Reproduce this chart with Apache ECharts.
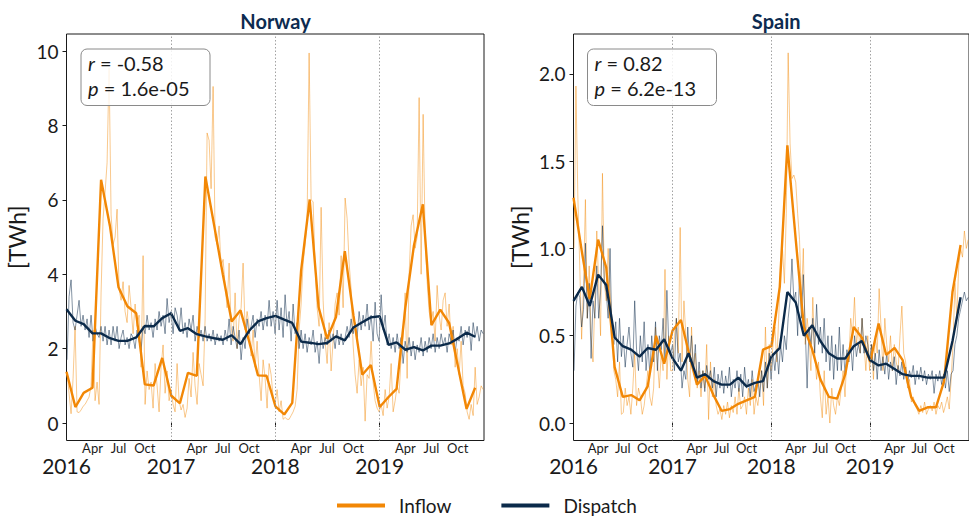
<!DOCTYPE html>
<html><head><meta charset="utf-8">
<script src="https://cdn.jsdelivr.net/npm/echarts@6/dist/echarts.min.js"></script>
<style>html,body{margin:0;padding:0;background:#fff}#c{width:969px;height:518px}</style>
</head><body><div id="c"></div>
<script>
// ---------------- DATA ----------------
const countries = ['Norway', 'Spain'];
const yearTicks = ['2016', '2017', '2018', '2019'];
const monthTicks = ['Apr', 'Jul', 'Oct'];
const monthTickIdx = [3, 6, 9];
const norwayYTicks = [0, 2, 4, 6, 8, 10];
const spainYTicks = [0, 0.5, 1.0, 1.5, 2.0];
const corrR = ['-0.58', '0.82'];
const corrP = ['1.6e-05', '6.2e-13'];

// monthly (Jan 2016 .. Dec 2019)
const norwayInflowMonthly = [1.38,0.43,0.81,0.95,6.54,5.3,3.65,3.14,2.95,1.04,1.01,1.75,
  0.74,0.53,1.35,1.27,6.63,5.3,4.0,2.73,3.03,2.2,1.28,1.27,
  0.45,0.23,0.54,4.1,6.01,3.12,2.27,2.85,4.62,2.9,1.3,1.56,
  0.43,0.7,0.92,3.12,4.78,5.88,2.63,3.05,2.69,1.55,0.38,0.95];
const norwayDispatchMonthly = [3.06,2.75,2.66,2.41,2.41,2.28,2.21,2.21,2.30,2.61,2.6,2.82,
  2.95,2.48,2.55,2.39,2.33,2.28,2.24,2.36,2.12,2.48,2.73,2.82,
  2.88,2.78,2.69,2.19,2.16,2.12,2.15,2.33,2.22,2.57,2.71,2.84,
  2.87,2.1,2.17,1.97,2.04,1.95,2.08,2.08,2.14,2.27,2.43,2.32];
const spainInflowMonthly = [1.29,0.98,0.71,1.05,0.89,0.32,0.15,0.16,0.13,0.21,0.50,0.34,
  0.53,0.59,0.41,0.22,0.27,0.16,0.07,0.08,0.11,0.13,0.15,0.42,
  0.44,0.78,1.59,1.05,0.55,0.42,0.25,0.15,0.14,0.28,0.55,0.49,
  0.35,0.57,0.39,0.43,0.36,0.15,0.07,0.09,0.09,0.24,0.75,1.02];
const spainDispatchMonthly = [0.70,0.78,0.67,0.85,0.79,0.49,0.44,0.42,0.38,0.43,0.42,0.48,
  0.37,0.30,0.40,0.26,0.28,0.24,0.22,0.22,0.26,0.21,0.23,0.24,
  0.38,0.43,0.75,0.69,0.50,0.56,0.47,0.40,0.37,0.37,0.44,0.47,
  0.36,0.33,0.34,0.31,0.28,0.27,0.27,0.26,0.26,0.26,0.47,0.72];

// weekly (from 3 Jan 2016, 209 weeks)
const norwayInflowWeekly = [
  1.37,0.8,0.25,1.2,2.6,0.3,0.28,0.35,0.45,0.5,0.6,0.7,
  1.0,2.5,0.6,1.1,0.5,3.5,5.5,6.2,7.0,9.55,5.6,4.8,5.0,5.75,
  3.6,3.3,3.8,3.0,2.7,3.7,3.1,2.4,3.2,2.6,2.9,1.5,4.5,0.5,
  1.4,0.9,1.1,0.4,1.6,1.0,0.3,1.5,2.1,0.8,1.4,0.6,
  0.9,0.5,0.3,1.6,0.6,0.35,0.5,0.15,0.4,
  1.2,0.7,1.9,1.0,0.5,1.6,1.3,1.0,2.8,
  7.8,7.6,6.3,9.05,5.0,4.8,5.3,4.2,
  4.4,3.7,3.1,4.3,2.6,2.2,3.5,2.0,2.8,
  3.1,4.3,2.5,3.0,2.6,1.8,2.5,1.5,2.2,
  1.3,0.6,1.7,1.2,0.4,1.6,1.3,0.7,
  0.5,0.9,0.3,0.6,0.1,0.15,0.1,0.1,0.2,
  0.3,0.45,0.9,2.5,3.2,4.3,4.8,5.5,
  9.95,6.0,5.95,4.2,3.1,2.6,5.8,3.3,2.2,
  1.6,2.7,1.4,2.2,3.2,3.5,2.9,4.5,3.1,
  6.05,5.5,4.3,3.6,2.1,1.3,0.8,1.7,1.0,
  1.5,0.05,1.3,1.2,2.2,1.1,0.6,0.4,
  0.3,0.5,0.2,0.9,0.4,0.7,1.6,0.3,0.6,
  1.0,0.8,1.8,2.3,3.5,1.2,4.0,5.3,
  5.6,4.7,5.0,8.75,4.0,8.3,5.0,3.8,3.0,
  2.7,3.0,2.2,3.7,2.9,2.5,3.3,3.5,2.6,
  3.2,2.1,2.6,1.5,2.0,1.3,2.2,1.0,0.8,
  0.3,0.1,0.5,0.2,1.5,0.5,0.7,1.0,0.9];
const norwayDispatchWeekly = [
  1.7,3.4,3.85,2.7,2.5,2.9,3.3,2.6,2.9,2.5,2.8,2.3,2.9,2.2,2.6,2.4,2.3,2.6,2.2,2.6,
  2.1,2.5,2.1,2.6,2.2,2.6,2.0,2.3,2.5,2.1,2.3,2.0,2.4,2.3,2.0,2.5,2.2,1.95,2.6,2.4,
  2.9,2.5,2.7,2.3,2.8,2.5,3.0,2.6,2.9,2.4,3.35,2.7,
  3.0,2.4,3.1,2.9,2.5,3.1,2.4,2.7,2.3,2.8,2.5,2.9,2.2,2.6,2.3,2.5,2.2,2.6,2.2,2.4,
  2.2,2.5,2.1,2.4,2.2,2.35,2.1,2.5,2.2,2.8,2.1,2.6,2.3,2.0,2.5,1.7,2.3,2.0,2.8,2.4,
  2.6,2.9,2.3,2.8,2.6,3.0,2.5,2.9,2.6,3.3,2.6,3.0,
  2.4,3.3,2.5,3.1,2.3,3.45,2.6,3.0,2.2,3.2,2.4,2.7,2.0,2.5,2.0,2.4,1.9,2.3,2.1,2.5,
  1.9,2.2,1.6,2.4,2.0,2.3,2.1,2.5,2.2,2.4,2.0,2.5,2.1,2.4,2.1,2.3,2.6,2.3,2.8,2.4,
  2.7,2.3,3.0,2.5,2.9,2.6,3.2,2.5,2.9,2.2,3.25,2.4,
  2.2,3.45,2.5,2.9,2.1,2.4,2.0,2.3,1.9,2.4,2.0,2.3,1.6,2.2,1.9,2.3,1.8,2.2,1.7,2.1,
  1.9,2.3,1.8,2.2,1.9,2.3,2.0,2.4,1.9,2.3,2.0,2.4,2.1,2.3,1.9,2.4,2.2,2.5,1.9,2.3,
  2.2,2.6,2.1,2.5,2.3,2.6,1.95,2.7,2.3,2.6,2.2,2.5,2.4];
const spainInflowWeekly = [
  1.0,1.93,1.3,0.9,0.48,0.8,1.28,0.6,0.9,0.5,0.35,0.7,1.1,0.8,0.5,1.43,0.8,0.7,1.0,0.75,
  0.6,0.3,0.25,0.15,0.35,0.05,0.06,0.2,0.1,0.15,0.05,0.2,0.4,0.1,0.2,0.15,0.05,0.1,0.2,0.3,
  0.15,0.1,0.2,0.55,0.35,0.2,0.4,0.3,0.88,0.25,0.5,0.3,
  0.3,0.5,0.6,0.4,1.12,0.35,0.7,0.5,0.25,0.15,0.55,0.3,0.4,0.2,0.3,0.15,0.3,0.2,0.45,0.02,
  0.35,0.15,0.25,0.1,0.05,0.08,0.02,0.1,0.05,0.12,0.03,0.1,0.06,0.15,0.05,0.2,0.08,0.1,0.15,0.05,
  0.2,0.1,0.25,0.05,0.15,0.1,0.2,0.3,0.1,0.55,0.2,0.45,
  0.3,0.45,0.55,0.35,0.6,0.9,1.0,0.8,1.2,2.12,1.6,1.4,1.42,1.38,1.2,1.05,0.7,1.0,0.45,0.6,
  0.5,0.3,0.72,0.4,0.25,0.35,0.15,0.03,0.3,0.05,0.15,0.0,0.2,0.1,0.05,0.15,0.1,0.2,0.3,0.15,
  0.4,0.35,0.6,0.5,0.72,0.45,0.55,0.4,0.6,0.45,0.3,0.5,
  0.3,0.45,0.25,0.5,0.4,0.77,0.55,0.3,0.6,0.45,0.35,0.5,0.3,0.45,0.35,0.3,0.5,0.67,0.4,0.35,
  0.2,0.25,0.12,0.15,0.1,0.08,0.05,0.1,0.06,0.12,0.05,0.08,0.1,0.07,0.12,0.05,0.1,0.08,0.12,0.06,
  0.1,0.15,0.08,0.25,0.45,0.8,0.6,0.9,1.0,0.95,1.1,1.0,1.05];
const spainDispatchWeekly = [
  0.3,0.67,0.75,0.72,0.55,0.65,1.03,0.6,0.8,0.37,0.7,0.6,0.9,0.6,0.75,1.13,0.8,0.75,0.6,1.0,
  0.5,0.45,0.58,0.35,0.6,0.38,0.5,0.32,0.45,0.55,0.4,0.32,0.7,0.42,0.3,0.5,0.35,0.58,0.3,0.45,
  0.28,0.5,0.35,0.58,0.3,0.5,0.42,0.6,0.35,0.76,0.45,0.4,
  0.45,0.3,0.6,0.35,0.4,0.2,0.3,0.25,0.55,0.35,0.5,0.3,0.45,0.22,0.35,0.2,0.3,0.18,0.33,0.25,
  0.3,0.2,0.32,0.15,0.28,0.2,0.3,0.17,0.27,0.2,0.32,0.15,0.25,0.2,0.3,0.18,0.28,0.15,0.32,0.2,
  0.25,0.15,0.3,0.18,0.22,0.25,0.15,0.3,0.18,0.35,0.2,0.4,
  0.25,0.4,0.3,0.42,0.28,0.45,0.35,0.5,0.42,0.6,0.7,0.94,0.7,0.75,0.5,0.86,0.6,0.85,0.55,0.2,
  0.55,0.45,0.6,0.4,0.68,0.45,0.55,0.4,0.6,0.35,0.5,0.3,0.5,0.25,0.45,0.3,0.55,0.3,0.45,0.28,
  0.42,0.35,0.45,0.3,0.5,0.38,0.45,0.4,0.6,0.4,0.5,0.45,
  0.35,0.45,0.3,0.4,0.25,0.42,0.3,0.38,0.28,0.4,0.25,0.35,0.3,0.38,0.22,0.33,0.27,0.35,0.25,0.32,
  0.22,0.3,0.26,0.33,0.22,0.3,0.25,0.32,0.24,0.3,0.22,0.28,0.25,0.3,0.17,0.28,0.24,0.3,0.22,0.28,
  0.2,0.3,0.18,0.28,0.3,0.45,0.5,0.6,0.65,0.7,0.75,0.7,0.72];

// ---------------- CHART ----------------
const DAY = 86400000;
const T0 = Date.UTC(2016, 0, 1), T1 = Date.UTC(2020, 0, 1);
const weekT = i => Date.UTC(2016, 0, 3) + i * 7 * DAY;
const monthT = m => Date.UTC(2016 + Math.floor(m / 12), m % 12, 1);
const yearVals = yearTicks.map(y => Date.UTC(+y, 0, 1));
const monthVals = [];
const monthNames = [];
yearTicks.forEach(y => monthTickIdx.forEach((mi, k) => { monthVals.push(Date.UTC(+y, mi, 1)); monthNames.push(monthTicks[k]); }));

const FONT = 'Lato, "DejaVu Sans", sans-serif';
const ORANGE = '#f28705', NAVY = '#0b2a4a';
const ORANGE_L = 'rgba(242,135,5,0.45)', NAVY_L = 'rgba(11,42,74,0.5)';
const INK = '#1a1a1a';

const grids = [
  { left: 66.5, top: 34, width: 417.5, height: 406.5 },
  { left: 573.5, top: 34, width: 405.5, height: 406.5 }
];
const yCfg = [
  { min: -0.47, max: 10.46, ticks: norwayYTicks, fmt: v => String(v), gap: 38 },
  { min: -0.1, max: 2.228, ticks: spainYTicks, fmt: v => v.toFixed(1), gap: 42 }
];
const data = [
  [norwayInflowWeekly, norwayDispatchWeekly, norwayInflowMonthly, norwayDispatchMonthly],
  [spainInflowWeekly, spainDispatchWeekly, spainInflowMonthly, spainDispatchMonthly]
];

const xAxis = [], yAxis = [], series = [];
countries.forEach((c, g) => {
  xAxis.push({
    type: 'value', gridIndex: g, min: T0, max: T1, position: 'bottom',
    axisLine: { show: false }, splitLine: { show: false },
    axisTick: { show: true, customValues: yearVals, length: 4, lineStyle: { color: INK } },
    axisLabel: { customValues: yearVals, formatter: v => yearTicks[yearVals.indexOf(v)] || '',
      margin: 15, fontSize: 21, lineHeight: 20, color: INK, fontFamily: FONT }
  });
  xAxis.push({
    type: 'value', gridIndex: g, min: T0, max: T1, position: 'bottom',
    axisLine: { show: false }, splitLine: { show: false }, axisTick: { show: false },
    axisLabel: { customValues: monthVals, formatter: v => monthNames[monthVals.indexOf(v)] || '',
      margin: 1, fontSize: 13, lineHeight: 12, color: INK, fontFamily: FONT }
  });
  const yc = yCfg[g];
  yAxis.push({
    type: 'value', gridIndex: g, min: yc.min, max: yc.max,
    axisLine: { show: false }, splitLine: { show: false },
    axisTick: { show: true, customValues: yc.ticks, length: 4, lineStyle: { color: INK } },
    axisLabel: { customValues: yc.ticks, formatter: yc.fmt, margin: 8, fontSize: 19, color: INK, fontFamily: FONT },
    name: '[TWh]', nameLocation: 'middle', nameGap: yc.gap, nameRotate: 90,
    nameTextStyle: { fontSize: 23, color: INK, fontFamily: FONT }
  });
  const [iw, dw, im, dm] = data[g];
  const base = { type: 'line', xAxisIndex: g * 2, yAxisIndex: g, showSymbol: false, symbol: 'none',
    silent: true, animation: false, emphasis: { disabled: true } };
  series.push(Object.assign({}, base, {
    name: 'Inflow weekly', color: ORANGE_L, lineStyle: { width: 1, color: ORANGE_L },
    data: iw.map((v, i) => [weekT(i), v]), z: 1,
    markLine: { silent: true, symbol: ['none', 'none'], label: { show: false },
      lineStyle: { type: [1.5, 2], color: '#8c8c8c', width: 0.8 },
      data: yearVals.slice(1).map(t => ({ xAxis: t })) }
  }));
  series.push(Object.assign({}, base, {
    name: 'Dispatch weekly', color: NAVY_L, lineStyle: { width: 1, color: NAVY_L },
    data: dw.map((v, i) => [weekT(i), v]), z: 2
  }));
  series.push(Object.assign({}, base, {
    name: 'Inflow', color: ORANGE, lineStyle: { width: 2.4, color: ORANGE },
    data: im.map((v, i) => [monthT(i), v]), z: 3
  }));
  series.push(Object.assign({}, base, {
    name: 'Dispatch', color: NAVY, lineStyle: { width: 2.4, color: NAVY },
    data: dm.map((v, i) => [monthT(i), v]), z: 4
  }));
});

const graphic = [];
const titleX = [275.5, 776.2];
const boxX = [81, 587.5];
countries.forEach((c, g) => {
  graphic.push({ type: 'text', x: titleX[g], y: 21, silent: true,
    style: { text: c, fill: '#0d2b50', font: 'bold 20px ' + FONT, align: 'center', verticalAlign: 'middle',
      textAlign: 'center', textVerticalAlign: 'middle' } });
  graphic.push({ type: 'rect', silent: true, shape: { x: boxX[g], y: 49, width: 129, height: 56.5, r: 6 },
    style: { fill: 'rgba(255,255,255,0.85)', stroke: '#8a8a8a', lineWidth: 1 }, z: 100 });
  graphic.push({ type: 'text', x: boxX[g] + 7, y: 62.5, silent: true, z: 101,
    style: { text: '{i|r} = ' + corrR[g], fill: INK, font: '20px ' + FONT, verticalAlign: 'middle', textVerticalAlign: 'middle',
      rich: { i: { fontStyle: 'italic', fontSize: 20, fontFamily: FONT, fill: INK } } } });
  graphic.push({ type: 'text', x: boxX[g] + 7, y: 87.5, silent: true, z: 101,
    style: { text: '{i|p} = ' + corrP[g], fill: INK, font: '20px ' + FONT, verticalAlign: 'middle', textVerticalAlign: 'middle',
      rich: { i: { fontStyle: 'italic', fontSize: 20, fontFamily: FONT, fill: INK } } } });
});

const chart = echarts.init(document.getElementById('c'), null, { renderer: 'svg' });
chart.setOption({
  animation: false,
  backgroundColor: '#fff',
  textStyle: { fontFamily: FONT },
  grid: grids.map(gr => Object.assign({ show: true, borderColor: INK, borderWidth: 1, backgroundColor: 'transparent' }, gr)),
  xAxis, yAxis, series, graphic,
  legend: {
    left: 337, top: 495.5, icon: 'rect', itemWidth: 48, itemHeight: 4, itemGap: 50,
    selectedMode: false, padding: 0,
    data: [{ name: 'Inflow', itemStyle: { color: ORANGE } }, { name: 'Dispatch', itemStyle: { color: NAVY } }],
    textStyle: { fontSize: 19, lineHeight: 20, color: INK, fontFamily: FONT, padding: [0, 0, 0, 9] }
  }
});
</script>
</body></html>
